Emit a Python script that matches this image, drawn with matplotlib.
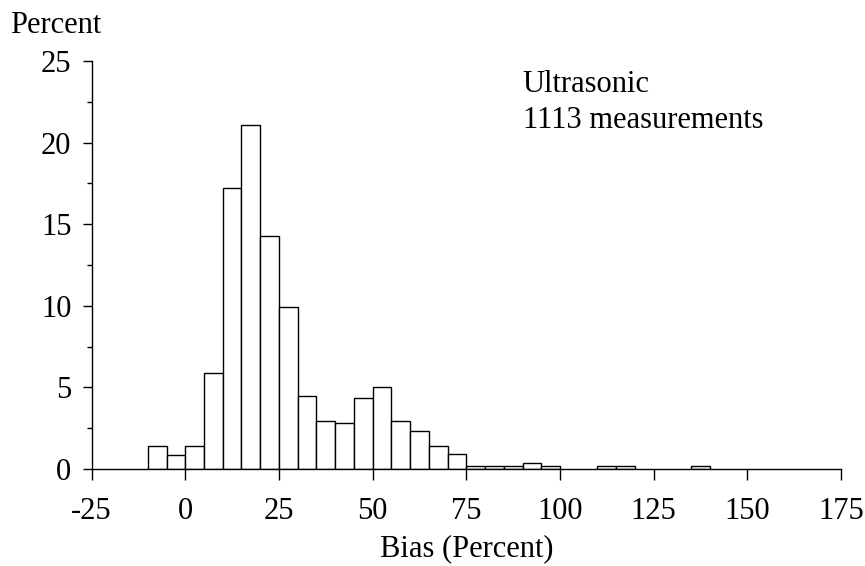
import matplotlib.pyplot as plt
from matplotlib.ticker import MultipleLocator

plt.rcParams['font.family'] = ['Liberation Serif', 'DejaVu Serif']
plt.rcParams['axes.unicode_minus'] = False

# histogram bins (left edges, width 5) and percent of measurements
bin_left = [-10, -5, 0, 5, 10, 15, 20, 25, 30, 35, 40, 45, 50, 55, 60, 65, 70,
            75, 80, 85, 90, 95, 110, 115, 135]
percent = [1.4, 0.85, 1.4, 5.9, 17.2, 21.05, 14.25, 9.9, 4.5, 2.95, 2.8, 4.35,
           5.05, 2.95, 2.3, 1.4, 0.9, 0.18, 0.18, 0.18, 0.36, 0.18, 0.18, 0.18, 0.18]
bin_width = 5

xticks = [-25, 0, 25, 50, 75, 100, 125, 150, 175]
yticks = [0, 5, 10, 15, 20, 25]

fig = plt.figure(figsize=(8.65, 5.66), dpi=100)
ax = fig.add_axes([0.1059, 0.1714, 0.8664, 0.7208])

ax.bar(bin_left, percent, width=bin_width, align='edge',
       facecolor='white', edgecolor='black', linewidth=1.0)

ax.set_xlim(-25, 175)
ax.set_ylim(0, 25)
ax.set_xticks(xticks)
ax.set_yticks(yticks)
ax.yaxis.set_minor_locator(MultipleLocator(2.5))
ax.tick_params(axis='both', which='major', labelsize=22, direction='out',
               color='black', width=1)
ax.tick_params(axis='x', which='major', length=8, pad=12)
ax.tick_params(axis='y', which='major', length=6.5, pad=8)
ax.tick_params(axis='y', which='minor', length=3.6, width=1)
ax.spines['top'].set_visible(False)
ax.spines['right'].set_visible(False)
for s in ('left', 'bottom'):
    ax.spines[s].set_linewidth(1)

ax.set_xlabel('Bias (Percent)', fontsize=22, labelpad=6)
fig.text(0.012, 0.955, 'Percent', fontsize=22, ha='left', va='center')
ax.text(0.575, 0.978, 'Ultrasonic\n1113 measurements', transform=ax.transAxes,
        fontsize=22, ha='left', va='top', linespacing=1.3)

fig.savefig('out.png', dpi=100)
